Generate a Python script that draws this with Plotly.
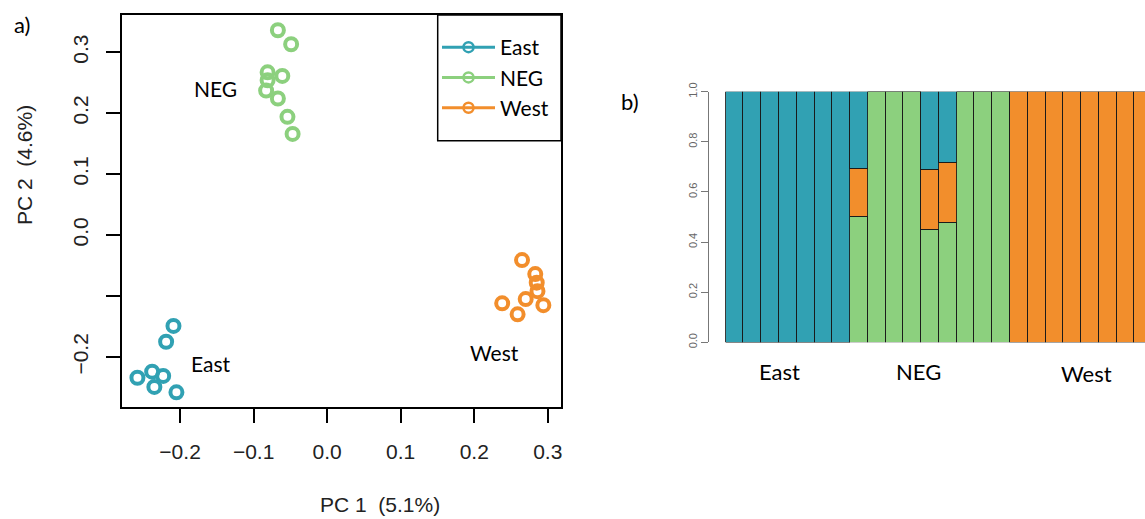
import plotly.graph_objects as go

# ---------------- data ----------------
groups = ["East", "NEG", "West"]
colors = {"East": "#31A1B3", "NEG": "#8CD07E", "West": "#F28E2C"}

pc1_east = [-0.209, -0.219, -0.258, -0.238, -0.223, -0.235, -0.205]
pc2_east = [-0.149, -0.175, -0.234, -0.224, -0.231, -0.249, -0.258]
pc1_neg = [-0.067, -0.049, -0.081, -0.061, -0.081, -0.083, -0.067, -0.054, -0.047]
pc2_neg = [0.336, 0.313, 0.267, 0.261, 0.254, 0.237, 0.224, 0.194, 0.166]
pc1_west = [0.265, 0.283, 0.285, 0.286, 0.270, 0.238, 0.259, 0.294]
pc2_west = [-0.041, -0.064, -0.078, -0.092, -0.105, -0.112, -0.130, -0.115]

pca_label_x = [-0.158, -0.152, 0.227]
pca_label_y = [-0.210, 0.241, -0.192]

x_ticks = [-0.2, -0.1, 0.0, 0.1, 0.2, 0.3]
x_ticktext = ["\u22120.2", "\u22120.1", "0.0", "0.1", "0.2", "0.3"]
y_ticks = [-0.2, -0.1, 0.0, 0.1, 0.2, 0.3]
y_ticktext = ["\u22120.2", "", "0.0", "0.1", "0.2", "0.3"]

# admixture proportions (24 individuals)
individuals = list(range(24))
q_neg = [0, 0, 0, 0, 0, 0, 0, 0.50, 1, 1, 1, 0.451, 0.479, 1, 1, 1, 0, 0, 0, 0, 0, 0, 0, 0]
q_west = [0, 0, 0, 0, 0, 0, 0, 0.194, 0, 0, 0, 0.239, 0.236, 0, 0, 0, 1, 1, 1, 1, 1, 1, 1, 1]
q_east = [1, 1, 1, 1, 1, 1, 1, 0.306, 0, 0, 0, 0.310, 0.285, 0, 0, 0, 0, 0, 0, 0, 0, 0, 0, 0]
bar_group_pos = [2.5, 10.35, 19.8]
bar_yticks = [0.0, 0.2, 0.4, 0.6, 0.8, 1.0]

W, H = 1145, 519
def px(x):
    return x / W
def py(y):
    return 1 - y / H

label_font = "Lato, Carlito, sans-serif"
tick_font = "Liberation Sans, Arial, sans-serif"

fig = go.Figure()

pts = {"East": (pc1_east, pc2_east), "NEG": (pc1_neg, pc2_neg), "West": (pc1_west, pc2_west)}
for g in groups:
    xs, ys = pts[g]
    fig.add_trace(go.Scatter(
        x=xs, y=ys, mode="markers", showlegend=False,
        marker=dict(symbol="circle-open", size=12, color=colors[g], line=dict(width=4, color=colors[g])),
        xaxis="x", yaxis="y"))
for g in groups:
    fig.add_trace(go.Scatter(
        x=[None], y=[None], mode="lines+markers", name=g, legendgroup=g,
        line=dict(color=colors[g], width=3),
        marker=dict(symbol="circle-open", size=10, color=colors[g], line=dict(width=2.5, color=colors[g])),
        xaxis="x", yaxis="y"))

# bars (stack: NEG bottom, West middle, East top)
bar_line = dict(color="rgba(25,25,25,0.85)", width=1)
for vals, g in [(q_neg, "NEG"), (q_west, "West"), (q_east, "East")]:
    fig.add_trace(go.Bar(
        x=individuals, y=vals, width=1, showlegend=False,
        marker=dict(color=colors[g], line=bar_line),
        xaxis="x2", yaxis="y2"))

def ann(**kw):
    d = dict(showarrow=False, xanchor="center", yanchor="middle")
    d.update(kw)
    return d

annotations = []
for gx, gy, g in zip(pca_label_x, pca_label_y, ["East", "NEG", "West"]):
    annotations.append(ann(x=gx, y=gy, xref="x", yref="y", text=g,
                           font=dict(family=label_font, size=21, color="black")))
for bx, by, g in zip(bar_group_pos, [371, 371, 373], groups):
    annotations.append(ann(x=bx, y=py(by), xref="x2", yref="paper", text=g,
                           font=dict(family=label_font, size=22, color="black")))
annotations += [
    ann(x=px(22), y=py(25), xref="paper", yref="paper", text="a)",
        font=dict(family=label_font, size=22, color="black")),
    ann(x=px(630), y=py(101), xref="paper", yref="paper", text="b)",
        font=dict(family=label_font, size=22, color="black")),
    ann(x=px(380), y=py(504), xref="paper", yref="paper", text="PC 1\u00a0\u00a0(5.1%)",
        font=dict(family=tick_font, size=21, color="#222")),
    ann(x=px(24), y=py(165), xref="paper", yref="paper", text="PC 2\u00a0\u00a0(4.6%)",
        textangle=-90, font=dict(family=tick_font, size=21, color="#222")),
]

fig.update_layout(
    template="none",
    width=W, height=H,
    margin=dict(l=0, r=0, t=0, b=0, autoexpand=False),
    paper_bgcolor="white", plot_bgcolor="white",
    barmode="stack", bargap=0,
    showlegend=True,
    legend=dict(x=px(437), y=py(27), xanchor="left", yanchor="top",
                bgcolor="rgba(0,0,0,0)", borderwidth=0,
                font=dict(family=label_font, size=21, color="black"),
                tracegroupgap=0, itemwidth=53),
    xaxis=dict(domain=[px(122), px(561)], range=[-0.279, 0.318], automargin=False,
               tickvals=x_ticks, ticktext=x_ticktext, ticks="outside", ticklen=14, tickwidth=1.5,
               tickcolor="black", showline=True, linecolor="black", linewidth=1.5, mirror=True,
               showgrid=False, zeroline=False, ticklabelstandoff=11,
               tickfont=dict(family=tick_font, size=21, color="#222")),
    yaxis=dict(domain=[py(407), py(15)], range=[-0.282, 0.361], automargin=False,
               tickvals=y_ticks, ticktext=y_ticktext, ticks="outside", ticklen=14, tickwidth=1.5,
               tickcolor="black", showline=True, linecolor="black", linewidth=1.5, mirror=True,
               showgrid=False, zeroline=False, tickangle=-90, ticklabelstandoff=10,
               tickfont=dict(family=tick_font, size=21, color="#222")),
    xaxis2=dict(domain=[px(709.3), 1.0], range=[-1.44, 23.08], anchor="y2", automargin=False,
                showline=False, showticklabels=False, ticks="", showgrid=False, zeroline=False),
    yaxis2=dict(domain=[py(342.3), py(91.7)], range=[0, 1], anchor="x2", automargin=False,
                tickvals=bar_yticks, tickformat=".1f", ticks="outside", ticklen=7,
                tickcolor="#777", showline=True, linecolor="#777", linewidth=1,
                showgrid=False, zeroline=False, tickangle=-90,
                tickfont=dict(family=tick_font, size=11, color="#666")),
    shapes=[dict(type="rect", xref="paper", yref="paper",
                 x0=px(437.7), x1=px(561), y0=py(140.7), y1=py(15),
                 line=dict(color="black", width=1.5), fillcolor="rgba(0,0,0,0)")],
    annotations=annotations,
)

fig.write_html("out.html", config={"displayModeBar": False},
               post_script="document.body.style.margin='0px';")
